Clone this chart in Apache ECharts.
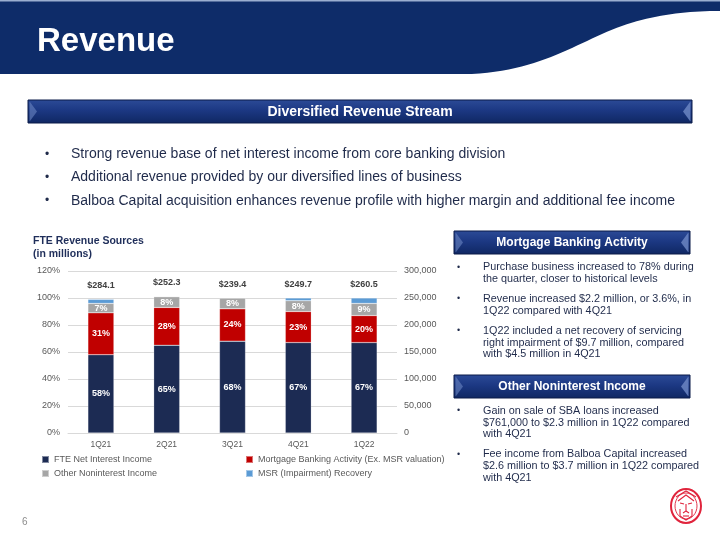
<!DOCTYPE html>
<html>
<head>
<meta charset="utf-8">
<script src="https://cdn.jsdelivr.net/npm/echarts@6/dist/echarts.min.js"></script>
<style>
html,body{margin:0;padding:0;background:#fff;}
#c{width:720px;height:540px;}
</style>
</head>
<body>
<div id="c"></div>
<script>
const categories = ['1Q21', '2Q21', '3Q21', '4Q21', '1Q22'];
const fteNetInterest = [58, 65, 68, 67, 67];
const mortgageBanking = [31, 28, 24, 23, 20];
const otherNoninterest = [7, 8, 8, 8, 9];
const msrRecovery = [3, 0, 0, 2, 4];
const totals = [284.1, 252.3, 239.4, 249.7, 260.5];
const seriesNames = ['FTE Net Interest Income', 'Mortgage Banking Activity (Ex. MSR valuation)', 'Other Noninterest Income', 'MSR (Impairment) Recovery'];

const FONT = '"Liberation Sans", Arial, sans-serif';
const TXT = '#1f2a4a';

function cubic(p0, p1, p2, p3, n) {
  const pts = [];
  for (let i = 0; i <= n; i++) {
    const t = i / n, u = 1 - t;
    pts.push([
      u*u*u*p0[0] + 3*u*u*t*p1[0] + 3*u*t*t*p2[0] + t*t*t*p3[0],
      u*u*u*p0[1] + 3*u*u*t*p1[1] + 3*u*t*t*p2[1] + t*t*t*p3[1]
    ]);
  }
  return pts;
}

function banner(x, y, w, h, label, size) {
  return [
    { type: 'rect', shape: { x: x, y: y, width: w, height: h },
      style: { fill: { type: 'linear', x: 0, y: 0, x2: 0, y2: 1, colorStops: [
        { offset: 0, color: '#2c4b97' }, { offset: 0.45, color: '#1c3883' }, { offset: 1, color: '#0f2762' }] },
        stroke: '#0a1b48', lineWidth: 1 } },
    { type: 'polygon', shape: { points: [[x + w - 9, y + h / 2], [x + w - 2, y + 2], [x + w - 1.5, y + 2], [x + w - 1.5, y + h - 2], [x + w - 2, y + h - 2]] },
      style: { fill: '#6b85c2', opacity: 0.85 } },
    { type: 'polygon', shape: { points: [[x + 9, y + h / 2], [x + 2, y + 2], [x + 1.5, y + 2], [x + 1.5, y + h - 2], [x + 2, y + h - 2]] },
      style: { fill: '#6b85c2', opacity: 0.6 } },
    { type: 'text', x: x + w / 2, y: y + h / 2 + 0.5,
      style: { text: label, fill: '#ffffff', font: 'bold ' + size + 'px ' + FONT, align: 'center', verticalAlign: 'middle' } }
  ];
}

function bulletBlock(bx, tx, firstY, lh, text, size, bsize) {
  return [
    { type: 'text', x: bx, y: firstY, style: { text: '\u2022', fill: TXT, font: bsize + 'px ' + FONT, verticalAlign: 'middle' } },
    { type: 'text', x: tx, y: firstY - lh / 2,
      style: { text: text, fill: TXT, font: size + 'px ' + FONT, lineHeight: lh, verticalAlign: 'top' } }
  ];
}

let g = [];
// header band
g.push({ type: 'rect', shape: { x: 0, y: 0, width: 720, height: 74 }, style: { fill: '#0e2c69' } });
g.push({ type: 'rect', shape: { x: 0, y: 0, width: 720, height: 1.5 }, style: { fill: '#9aaed0' } });
const wave = cubic([455, 74.5], [525, 74.5], [562, 52], [602, 34], 24)
  .concat(cubic([602, 34], [642, 16], [680, 11], [720, 11], 24).slice(1))
  .concat([[720, 76], [455, 76]]);
g.push({ type: 'polygon', shape: { points: wave }, style: { fill: '#ffffff' } });
g.push({ type: 'text', x: 37, y: 42, style: { text: 'Revenue', fill: '#ffffff', font: 'bold 33px ' + FONT, verticalAlign: 'middle' } });

g = g.concat(banner(28, 100, 664, 23, 'Diversified Revenue Stream', 14));

g = g.concat(bulletBlock(45, 71, 154.5, 23, 'Strong revenue base of net interest income from core banking division', 14, 12));
g = g.concat(bulletBlock(45, 71, 177.5, 23, 'Additional revenue provided by our diversified lines of business', 14, 12));
g = g.concat(bulletBlock(45, 71, 201, 23, 'Balboa Capital acquisition enhances revenue profile with higher margin and additional fee income', 14, 12));

// chart title
g.push({ type: 'text', x: 33, y: 235, style: { text: 'FTE Revenue Sources\n(in millions)', fill: '#1f2e5a', font: 'bold 10.5px ' + FONT, lineHeight: 12.5, verticalAlign: 'top' } });

// right panels
g = g.concat(banner(454, 231, 236, 23, 'Mortgage Banking Activity', 12));
g = g.concat(bulletBlock(457, 483, 267.5, 11.6, 'Purchase business increased to 78% during\nthe quarter, closer to historical levels', 10.8, 9));
g = g.concat(bulletBlock(457, 483, 299, 11.6, 'Revenue increased $2.2 million, or 3.6%, in\n1Q22 compared with 4Q21', 10.8, 9));
g = g.concat(bulletBlock(457, 483, 331, 11.6, '1Q22 included a net recovery of servicing\nright impairment of $9.7 million, compared\nwith $4.5 million in 4Q21', 10.8, 9));
g = g.concat(banner(454, 375, 236, 23, 'Other Noninterest Income', 12));
g = g.concat(bulletBlock(457, 483, 411, 11.6, 'Gain on sale of SBA loans increased\n$761,000 to $2.3 million in 1Q22 compared\nwith 4Q21', 10.8, 9));
g = g.concat(bulletBlock(457, 483, 454.5, 11.6, 'Fee income from Balboa Capital increased\n$2.6 million to $3.7 million in 1Q22 compared\nwith 4Q21', 10.8, 9));

// page number
g.push({ type: 'text', x: 22, y: 522, style: { text: '6', fill: '#8c8c8c', font: '10px ' + FONT, verticalAlign: 'middle' } });

// logo (simplified lion mark)
const LR = '#e0243c';
g.push({ type: 'ellipse', shape: { cx: 686, cy: 506, rx: 15, ry: 17 }, style: { fill: 'none', stroke: LR, lineWidth: 2 } });
g.push({ type: 'ellipse', shape: { cx: 686, cy: 506, rx: 11, ry: 13 }, style: { fill: 'none', stroke: LR, lineWidth: 0.9 } });
const logoLines = [
  [[676, 497], [686, 491], [696, 497]],
  [[678, 501], [686, 495], [694, 501]],
  [[680, 503], [684, 504]],
  [[692, 503], [688, 504]],
  [[683, 513], [686, 511], [686, 504]],
  [[686, 511], [689, 513]],
  [[680, 509], [680, 516], [686, 520], [692, 516], [692, 509]],
  [[683, 516], [689, 516]]
];
logoLines.forEach(pts => g.push({ type: 'polyline', shape: { points: pts }, style: { fill: null, stroke: LR, lineWidth: 1.1 } }));

const chart = echarts.init(document.getElementById('c'), null, { renderer: 'canvas' });

const segLabel = {
  show: true, position: 'inside', color: '#ffffff', fontWeight: 'bold', fontSize: 9, fontFamily: FONT,
  formatter: p => p.value + '%'
};
const barCommon = { type: 'bar', stack: 'rev', barWidth: 26 };
function iStyle(c) { return { color: c, borderColor: 'rgba(255,255,255,0.45)', borderWidth: 0.5 }; }

chart.setOption({
  animation: false,
  textStyle: { fontFamily: FONT },
  graphic: { elements: g },
  grid: { left: 68, right: 323, top: 271, bottom: 107, containLabel: false },
  legend: [
    { left: 41, top: 455, orient: 'vertical', itemGap: 5, itemWidth: 7, itemHeight: 7, padding: 0, icon: 'rect',
      data: [seriesNames[0], seriesNames[2]], textStyle: { color: '#595959', fontSize: 9, fontFamily: FONT } },
    { left: 245, top: 455, orient: 'vertical', itemGap: 5, itemWidth: 7, itemHeight: 7, padding: 0, icon: 'rect',
      data: [seriesNames[1], seriesNames[3]], textStyle: { color: '#595959', fontSize: 9, fontFamily: FONT } }
  ],
  xAxis: {
    type: 'category', data: categories,
    axisLine: { lineStyle: { color: '#d9d9d9' } }, axisTick: { show: false },
    axisLabel: { color: '#595959', fontSize: 8.5, margin: 7 }
  },
  yAxis: [
    { type: 'value', min: 0, max: 120, interval: 20,
      axisLabel: { formatter: '{value}%', color: '#595959', fontSize: 9, margin: 8 },
      axisLine: { show: false }, axisTick: { show: false },
      splitLine: { lineStyle: { color: '#d9d9d9' } } },
    { type: 'value', position: 'right', min: 0, max: 300000, interval: 50000,
      axisLabel: { formatter: v => v.toLocaleString('en-US'), color: '#595959', fontSize: 9, margin: 7 },
      axisLine: { show: false }, axisTick: { show: false }, splitLine: { show: false } }
  ],
  series: [
    Object.assign({}, barCommon, { name: seriesNames[0], data: fteNetInterest, itemStyle: iStyle('#1c2b53'), label: segLabel }),
    Object.assign({}, barCommon, { name: seriesNames[1], data: mortgageBanking, itemStyle: iStyle('#c00000'), label: segLabel }),
    Object.assign({}, barCommon, { name: seriesNames[2], data: otherNoninterest, itemStyle: iStyle('#a6a6a6'), label: segLabel }),
    Object.assign({}, barCommon, { name: seriesNames[3], data: msrRecovery, itemStyle: iStyle('#5b9bd5'),
      label: { show: true, position: 'top', distance: 9, color: '#404040', fontWeight: 'bold', fontSize: 9, fontFamily: FONT,
        formatter: p => '$' + totals[p.dataIndex].toFixed(1) } })
  ]
});
</script>
</body>
</html>
